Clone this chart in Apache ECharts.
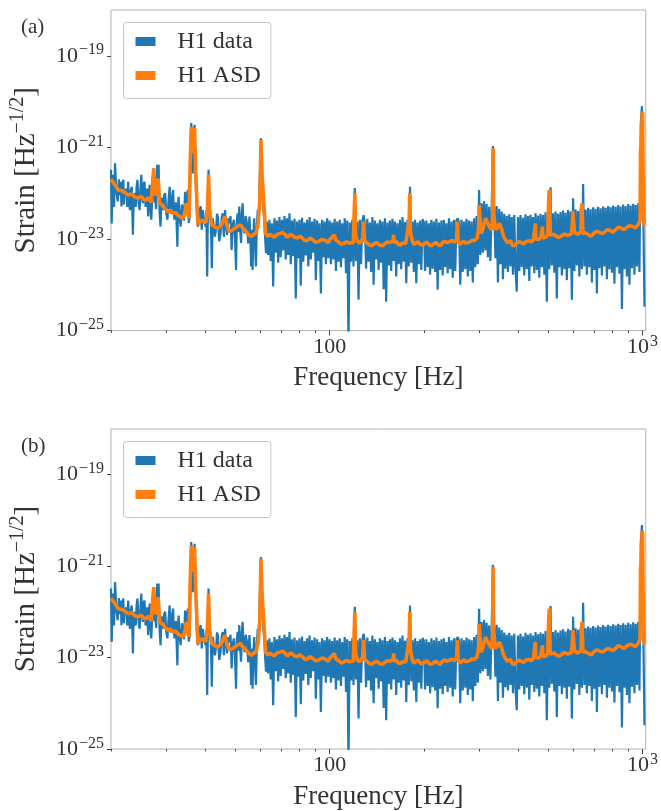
<!DOCTYPE html>
<html><head><meta charset="utf-8">
<script src="https://cdn.jsdelivr.net/npm/echarts@6/dist/echarts.min.js"></script>
<style>html,body{margin:0;padding:0;background:#fff}#c{width:661px;height:811px}</style>
</head><body><div id="c"></div>
<script>
// ---------- data (values are log10 of strain) ----------
const lowFreqHz = [20.0,20.1,20.3,20.45,20.6,20.8,21.0,21.2,21.35,21.5,21.6,21.75,21.9,22.0,22.1,22.4,22.55,22.7,22.85,23.0,23.15,23.3,23.5,23.65,23.8,24.0,24.15,24.3,24.5,24.7,24.85,25.0,25.15,25.3,25.45,25.6,25.8,25.96,26.1,26.3,26.45,26.6,26.75,26.9,27.1,27.4,27.55,27.7,27.9,28.1,28.25,28.4,28.6,28.8,29.0,29.3,29.55,29.8,30.05,30.3,30.55,30.8,31.0,31.2,31.4,31.6,31.75,31.9,32.25,32.6,32.75,32.9,33.15,33.4,33.7,34.0,34.25,34.5,34.85,35.2,35.45,35.7,35.9,36.1,36.3,36.5,36.75,37.0,37.2,37.4,37.65,37.9,38.3,38.7,39.0,39.3,39.7,40.1,40.35,40.6,40.8,41.0,41.3,41.6,41.8,42.0,42.3,42.6,43.0,43.4,43.65,43.9,44.35,44.8,45.15,45.5,45.9,46.3,46.65,47.0,47.4,47.8,48.2,48.6,49.0,49.4,49.8,50.2,50.5,50.8,51.1,51.4,51.75,52.1,52.4,52.7,53.05,53.4,53.9,54.4,54.9,55.4,55.75,56.1,56.4,56.7,57.05,57.4,57.75,58.1,58.5,58.9,59.25,59.6,59.95,60.3,60.7,61.1,61.45,61.8,62.2,62.6];
const lowDataExp = [-21.49,-22.66,-21.60,-22.30,-21.35,-21.95,-22.18,-21.70,-22.05,-21.75,-22.29,-21.80,-21.71,-22.25,-22.00,-21.90,-22.30,-21.75,-22.20,-22.37,-21.95,-21.86,-22.91,-22.05,-22.00,-22.30,-21.85,-21.71,-22.20,-22.37,-21.90,-21.60,-22.10,-22.22,-21.80,-21.75,-22.30,-22.15,-21.90,-22.51,-22.00,-21.82,-22.35,-22.58,-22.10,-21.46,-22.20,-22.15,-22.35,-21.38,-21.60,-21.38,-22.40,-22.73,-22.10,-22.37,-22.05,-22.00,-22.45,-22.58,-22.15,-21.86,-22.45,-22.37,-22.05,-21.93,-22.40,-22.58,-22.20,-23.17,-22.30,-22.08,-22.55,-22.73,-22.25,-22.37,-22.60,-21.97,-22.30,-21.93,-22.65,-22.51,-21.50,-20.47,-21.00,-21.57,-20.90,-20.51,-21.30,-22.00,-22.45,-22.73,-22.40,-22.29,-22.80,-22.37,-22.60,-22.73,-22.40,-23.82,-22.40,-21.49,-22.20,-22.51,-22.90,-23.64,-22.55,-22.58,-22.95,-22.73,-22.45,-22.51,-23.05,-22.88,-22.55,-22.44,-22.95,-22.37,-22.70,-22.91,-22.55,-22.66,-22.50,-23.24,-22.70,-22.58,-22.95,-23.68,-22.60,-22.44,-22.85,-22.29,-22.80,-23.09,-22.45,-22.22,-22.75,-22.88,-22.50,-22.66,-23.10,-22.51,-22.90,-23.60,-22.80,-23.68,-22.90,-22.55,-23.10,-23.60,-22.75,-22.37,-22.60,-22.08,-21.40,-20.80,-21.50,-22.08,-22.40,-22.58,-23.00,-23.31];

// dense part of the measured spectrum, sampled on log-spaced bins between band edges
const bandEdgesHz = [63, 100, 200, 400, 1024];
const band1Exp = [-22.62,-23.35,-22.58,-23.48,-22.66,-24.04,-22.55,-23.30,-22.60,-23.52,-22.52,-23.40,-22.58,-23.25,-22.50,-23.45,-22.55,-23.35,-22.44,-23.55,-22.60,-23.38,-22.56,-24.30,-22.62,-23.42,-22.58,-24.02,-22.54,-23.50,-22.64,-23.36,-22.58,-23.60,-22.52,-23.45,-22.62,-23.30,-22.56,-23.90,-22.60,-23.48,-22.66,-24.19,-22.58,-23.40,-22.62,-23.55,-22.55,-23.42];
const band2Exp = [-22.60,-23.55,-22.64,-23.45,-22.56,-23.70,-22.62,-23.50,-22.58,-23.62,-22.66,-23.42,-22.55,-23.75,-22.60,-25.30,-22.64,-23.50,-22.58,-23.60,-21.89,-23.48,-22.62,-24.33,-22.58,-23.55,-22.62,-22.48,-22.66,-23.65,-22.56,-23.50,-22.64,-23.72,-22.52,-24.00,-22.60,-23.45,-22.66,-23.68,-22.58,-23.52,-22.62,-24.10,-22.55,-24.37,-22.64,-23.58,-22.60,-23.70,-22.56,-23.48,-22.62,-23.82,-22.66,-23.55,-22.58,-23.66,-22.52,-23.50,-22.63,-23.97,-22.58,-23.60,-21.86,-23.52,-22.62,-23.72,-22.58,-23.97,-22.64,-23.55,-22.60,-23.68,-22.57];
const band3Exp = [-22.64,-23.70,-22.60,-23.62,-22.66,-23.78,-22.58,-23.65,-22.62,-23.72,-22.56,-24.11,-22.64,-23.68,-22.60,-23.80,-22.58,-23.62,-22.66,-23.75,-22.55,-23.66,-22.62,-23.85,-22.58,-23.70,-22.60,-22.55,-22.64,-24.00,-22.58,-23.72,-22.62,-23.66,-22.56,-23.82,-22.60,-23.70,-22.62,-23.95,-22.55,-23.62,-22.50,-23.55,-21.93,-23.35,-22.22,-23.30,-22.18,-23.25,-22.24,-23.40,-22.30,-23.48,-22.35,-20.97,-22.32,-23.42,-22.28,-23.95,-22.34,-23.55,-22.40,-23.88,-22.45,-23.65,-22.50,-23.72,-22.46,-23.60,-22.52,-23.78,-22.48,-23.66,-24.15];
const band4Exp = [-22.52,-23.70,-22.48,-23.62,-22.54,-23.80,-22.46,-23.66,-22.50,-23.92,-22.47,-23.60,-22.52,-23.75,-22.44,-23.68,-22.49,-23.85,-22.45,-23.62,-22.48,-23.78,-22.42,-24.37,-22.46,-23.66,-21.87,-23.58,-22.44,-23.74,-22.40,-24.30,-22.45,-23.62,-22.41,-23.80,-22.38,-23.66,-22.43,-23.90,-22.37,-23.64,-22.40,-24.33,-22.11,-23.70,-22.36,-23.58,-22.39,-23.82,-22.34,-23.66,-21.80,-23.60,-22.36,-23.78,-22.32,-23.62,-22.35,-23.95,-22.31,-23.68,-22.34,-24.19,-22.30,-23.64,-22.33,-23.80,-22.29,-23.60,-22.32,-23.88,-22.28,-23.66,-22.31,-23.74,-22.27,-23.98,-22.30,-23.62,-22.26,-23.76,-22.29,-24.53,-22.25,-23.66,-22.28,-23.82,-22.24,-24.00,-22.27,-23.64,-22.23,-23.78,-22.26,-23.60,-22.22,-23.72,-20.51,-20.10,-20.07,-24.48];

const asdFreqHz = [20.0,20.5,21.1,21.7,22.3,22.7,23.3,23.8,24.4,25.0,25.5,25.9,26.4,26.9,27.2,27.4,27.7,28.1,28.3,28.6,29.3,29.9,30.4,31.0,31.6,32.1,32.7,33.3,34.0,34.5,34.8,35.2,35.5,35.8,36.1,36.3,36.5,36.8,37.0,37.3,37.9,38.6,39.4,40.2,40.7,41.0,41.3,42.0,43.0,43.9,45.0,46.3,47.0,47.8,49.0,50.4,51.8,53.0,54.0,55.0,56.1,57.2,58.1,59.0,59.8,60.3,60.8,61.8,62.4,63.5,65.0,66.5,68.0,70.8,72.5,74.0,76.2,79.0,82.0,85.0,88.3,92.0,97.3,100.5,103.4,105.5,107.3,111.0,115.5,119.0,119.8,120.4,121.0,124.4,127.5,128.4,129.3,133.9,139.0,144.0,150.0,155.0,159.5,160.2,161.0,166.0,171.0,175.0,179.5,180.4,181.2,184.0,188.5,195.0,201.0,208.0,215.0,222.0,229.0,236.0,242.0,250.0,254.5,256.0,257.5,264.0,272.0,280.0,290.0,296.0,299.0,300.5,302.0,305.0,309.0,315.0,320.0,324.0,330.0,332.0,333.0,334.0,339.0,344.0,349.0,355.0,365.0,374.0,383.0,395.0,410.0,423.0,435.0,448.0,453.0,454.5,456.0,467.0,478.0,479.0,480.5,492.0,498.0,501.0,503.5,505.0,507.0,513.0,530.0,552.0,575.0,592.0,596.0,599.0,603.0,606.0,620.0,636.0,638.5,640.5,642.5,645.0,672.0,700.0,730.0,759.0,790.0,820.0,857.0,890.0,930.0,968.0,982.0,986.0,990.0,995.0,998.0,1001.0,1004.0,1008.0,1012.0,1020.0];
const asdExp = [-21.70,-21.80,-21.93,-21.95,-22.00,-22.04,-22.02,-22.08,-22.11,-22.07,-22.14,-22.15,-22.10,-22.20,-21.70,-21.46,-22.05,-21.80,-21.68,-22.21,-22.28,-22.35,-22.40,-22.38,-22.45,-22.42,-22.48,-22.52,-22.55,-22.40,-22.22,-22.45,-22.55,-21.40,-20.55,-20.90,-21.13,-20.70,-20.58,-21.50,-22.69,-22.62,-22.59,-22.65,-22.30,-21.60,-22.40,-22.69,-22.74,-22.77,-22.70,-22.51,-22.72,-22.84,-22.80,-22.74,-22.69,-22.78,-22.84,-22.90,-22.95,-22.90,-22.88,-22.70,-22.20,-20.84,-21.60,-22.37,-22.88,-22.95,-22.92,-22.96,-22.90,-22.86,-22.92,-22.95,-22.93,-22.98,-22.99,-23.03,-23.02,-23.06,-23.04,-23.00,-22.91,-23.06,-23.08,-23.10,-23.09,-23.08,-22.40,-22.00,-22.90,-23.09,-23.00,-22.62,-23.05,-23.13,-23.10,-23.13,-23.11,-23.08,-23.05,-22.91,-23.08,-23.12,-23.09,-23.10,-22.60,-22.00,-22.85,-23.06,-23.09,-23.12,-23.10,-23.13,-23.11,-23.12,-23.09,-23.08,-23.06,-23.07,-23.02,-22.62,-23.04,-23.09,-23.09,-23.07,-23.04,-22.98,-22.80,-22.26,-22.50,-22.88,-22.78,-22.55,-22.65,-22.73,-22.80,-22.40,-21.02,-22.40,-22.80,-22.75,-22.66,-22.80,-23.02,-23.08,-23.13,-23.10,-23.08,-23.06,-23.04,-23.02,-22.98,-22.66,-23.00,-23.01,-22.99,-22.73,-22.98,-22.96,-22.90,-22.20,-21.93,-22.10,-22.92,-22.95,-22.94,-22.93,-22.92,-22.90,-22.70,-22.40,-22.42,-22.85,-22.90,-22.85,-22.40,-22.22,-22.50,-22.88,-22.91,-22.87,-22.86,-22.84,-22.82,-22.80,-22.77,-22.75,-22.73,-22.69,-22.60,-21.00,-21.60,-20.60,-20.22,-20.30,-21.50,-22.20,-22.69,-22.70];
// extra ASD readings along the flat stretches (small ripple of the estimate)
const asdDetailFreqHz = [64.2,67.2,69.4,71.6,73.2,75.0,77.5,80.5,83.5,86.6,90.0,94.5,99.0,102.0,104.5,109.0,113.0,117.0,122.5,126.0,131.5,136.5,141.5,147.0,152.5,157.0,163.5,168.5,173.0,177.0,186.0,191.5,198.0,204.5,211.5,218.5,225.5,232.5,239.0,246.0,260.5,268.0,276.0,285.0,293.0,360.0,369.5,378.5,389.0,402.5,416.5,429.0,441.5,461.5,472.5,486.0,521.5,541.0,563.5,583.5,613.0,628.0,658.5,686.0,715.0,744.5,774.5,805.0,838.5,873.5,910.0,949.0,975.0];
const asdDetailExp = [-22.90,-22.99,-22.88,-22.83,-22.97,-22.90,-22.97,-22.94,-23.04,-22.98,-23.07,-23.01,-23.08,-22.96,-23.02,-23.12,-23.06,-23.12,-23.05,-23.12,-23.08,-23.15,-23.08,-23.15,-23.07,-23.12,-23.06,-23.13,-23.05,-23.12,-23.12,-23.06,-23.14,-23.07,-23.15,-23.08,-23.15,-23.05,-23.11,-23.03,-23.12,-23.05,-23.11,-23.03,-23.07,-22.95,-23.08,-23.04,-23.15,-23.06,-23.11,-23.02,-23.07,-23.04,-22.96,-23.00,-22.90,-22.97,-22.89,-22.95,-22.87,-22.93,-22.87,-22.94,-22.83,-22.88,-22.80,-22.85,-22.74,-22.80,-22.71,-22.76,-22.66];

const xMajorTicksHz = [100, 1000];
const xMinorTicksHz = [20,30,40,50,60,70,80,90,200,300,400,500,600,700,800,900];
const yTickExp = [-25,-23,-21,-19];
const seriesNames = ['H1 data', 'H1 ASD'];
const panelLabels = ['(a)', '(b)'];

// ---------- build ----------
const F = 'Liberation Serif';
const TXT = '#333333';
const BLUE = '#1f77b4', ORANGE = '#ff7f0e';
function pairs(fs, es){ return fs.map((f,i)=>[Math.log10(f), es[i]]); }
function bandPairs(f0, f1, es){
  const a = Math.log10(f0), b = Math.log10(f1), n = es.length;
  return es.map((e,i)=>[a + (b-a)*i/n, e]);
}
const bands = [band1Exp, band2Exp, band3Exp, band4Exp];
let blueData = pairs(lowFreqHz, lowDataExp);
bands.forEach((b,k)=>{ blueData = blueData.concat(bandPairs(bandEdgesHz[k], bandEdgesHz[k+1], b)); });
const asdData = pairs(asdFreqHz, asdExp).concat(pairs(asdDetailFreqHz, asdDetailExp)).sort((p,q)=>p[0]-q[0]);

const X0 = Math.log10(20), X1 = Math.log10(1024);
const richTick = {
  b:{fontFamily:F, fontSize:22, lineHeight:27, color:TXT},
  s:{fontFamily:F, fontSize:16, lineHeight:16, verticalAlign:'top', color:TXT, padding:[0,0,0,1]}
};
const gridTops = [10, 429];
const grids = [], xAxes = [], yAxes = [], series = [], legends = [], graphics = [];
gridTops.forEach((top,k)=>{
  grids.push({left:111, top:top, width:536.5, height:320.5, show:true, borderColor:'#b3b3b3', borderWidth:1, backgroundColor:'transparent'});
  xAxes.push({
    gridIndex:k, type:'value', min:X0, max:X1, position:'bottom',
    axisLine:{show:false}, splitLine:{show:false},
    axisTick:{show:true, customValues:xMajorTicksHz.map(Math.log10), length:5, lineStyle:{color:'#444', width:1}},
    axisLabel:{customValues:xMajorTicksHz.map(Math.log10), margin:3, rich:richTick,
      formatter:(v)=>{ const p = Math.round(v); return p >= 3 ? '{b|10}{s|' + p + '}' : '{b|' + Math.round(Math.pow(10, v)) + '}'; }},
    name:'Frequency [Hz]', nameLocation:'middle', nameGap:34,
    nameTextStyle:{fontFamily:F, fontSize:27, color:TXT}
  });
  xAxes.push({
    gridIndex:k, type:'value', min:X0, max:X1, position:'bottom',
    axisLine:{show:false}, splitLine:{show:false},
    axisTick:{show:true, customValues:xMinorTicksHz.map(Math.log10), length:2.5, lineStyle:{color:'#444', width:1}},
    axisLabel:{show:false}
  });
  yAxes.push({
    gridIndex:k, type:'value', min:-25, max:-18,
    axisLine:{show:false}, splitLine:{show:false},
    axisTick:{show:true, customValues:yTickExp, length:4, lineStyle:{color:'#444', width:1}},
    axisLabel:{customValues:yTickExp, margin:7, rich:richTick,
      formatter:(v)=>'{b|10}{s|\u2212' + Math.abs(Math.round(v)) + '}'},
    name:'{n|Strain [Hz}{s|\u22121/2}{n|]}', nameLocation:'middle', nameGap:67, nameRotate:90,
    nameTextStyle:{rich:{
      n:{fontFamily:F, fontSize:29, lineHeight:36, color:TXT},
      s:{fontFamily:F, fontSize:20, lineHeight:20, verticalAlign:'top', color:TXT}}}
  });
  series.push({type:'line', name:seriesNames[0], xAxisIndex:2*k, yAxisIndex:k, data:blueData,
    showSymbol:false, symbol:'none', lineStyle:{color:BLUE, width:2.2}, itemStyle:{color:BLUE},
    animation:false, silent:true, z:2});
  series.push({type:'line', name:seriesNames[1], xAxisIndex:2*k, yAxisIndex:k, data:asdData,
    showSymbol:false, symbol:'none', lineStyle:{color:ORANGE, width:3.6}, itemStyle:{color:ORANGE},
    animation:false, silent:true, z:3});
  legends.push({
    left:123.5, top:top+12.5, orient:'vertical', data:seriesNames, icon:'rect',
    itemWidth:20, itemHeight:9, itemGap:10, padding:[7,10,11,12],
    borderColor:'#c4c4c4', borderWidth:1, borderRadius:3, backgroundColor:'rgba(255,255,255,0.8)',
    textStyle:{fontFamily:F, fontSize:24, color:TXT, padding:[0,0,0,17]}, selectedMode:false
  });
  graphics.push({type:'text', left:21, top:top+7, style:{text:panelLabels[k], font:'21px "Liberation Serif"', fill:TXT}});
});

const chart = echarts.init(document.getElementById('c'), null, {renderer:'canvas'});
chart.setOption({
  backgroundColor:'#ffffff', animation:false,
  grid:grids, xAxis:xAxes, yAxis:yAxes, series:series, legend:legends, graphic:graphics
});
</script></body></html>
